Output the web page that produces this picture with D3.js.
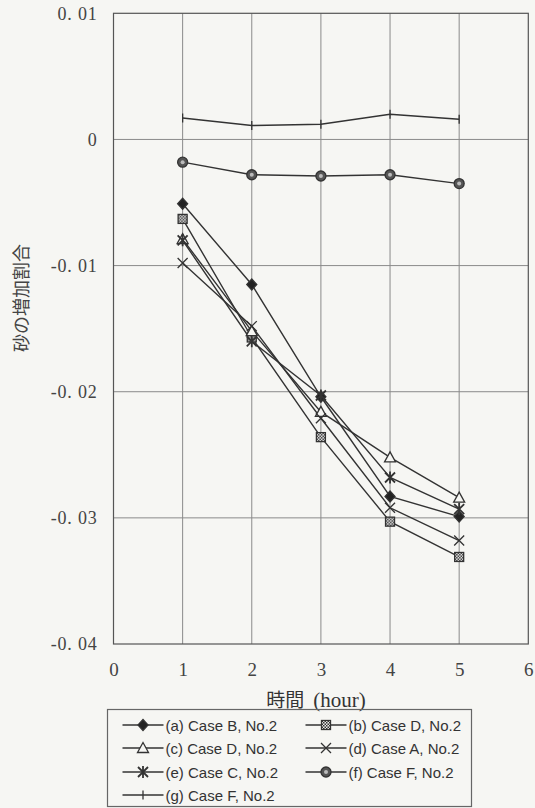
<!DOCTYPE html>
<html><head><meta charset="utf-8">
<script src="https://cdn.jsdelivr.net/npm/d3@7"></script>
<style>
html,body{margin:0;padding:0;background:#f6f6f3;}
svg{display:block;}
</style></head>
<body>
<svg id="chart" width="535" height="808"></svg>
<script>
// ---- data ----
const hours = [1, 2, 3, 4, 5];
const seriesA = [-0.0051, -0.0115, -0.0204, -0.0283, -0.0299]; // (a) Case B, No.2
const seriesB = [-0.0063, -0.0157, -0.0236, -0.0303, -0.0331]; // (b) Case D, No.2
const seriesC = [-0.0079, -0.0152, -0.0216, -0.0252, -0.0284]; // (c) Case D, No.2
const seriesD = [-0.0098, -0.0148, -0.0221, -0.0292, -0.0318]; // (d) Case A, No.2
const seriesE = [-0.0080, -0.0160, -0.0203, -0.0268, -0.0293]; // (e) Case C, No.2
const seriesF = [-0.0018, -0.0028, -0.0029, -0.0028, -0.0035]; // (f) Case F, No.2
const seriesG = [0.0017, 0.0011, 0.0012, 0.0020, 0.0016];      // (g) Case F, No.2
const legendLabels = ["(a) Case B, No.2", "(b) Case D, No.2", "(c) Case D, No.2", "(d) Case A, No.2",
                      "(e) Case C, No.2", "(f) Case F, No.2", "(g) Case F, No.2"];
const markerTypes = ["diamond", "checker", "triangle", "x", "asterisk", "dotcircle", "plus"];
const xTicks = [0, 1, 2, 3, 4, 5, 6];
const yTicks = [0.01, 0, -0.01, -0.02, -0.03, -0.04];
const yTickLabels = ["0. 01", "0", "-0. 01", "-0. 02", "-0. 03", "-0. 04"];
const xTitleJa = "時間";
const xTitleEn = "(hour)";
const yTitle = "砂の増加割合";

const allSeries = [seriesA, seriesB, seriesC, seriesD, seriesE, seriesF, seriesG];

const svg = d3.select("#chart");
const INK = "#333";
const GRID = "#8a8a8a";

const x = d3.scaleLinear().domain([0, 6]).range([113.5, 528.3]);
const y = d3.scaleLinear().domain([-0.04, 0.01]).range([644, 13.3]);

// pattern for checker square
const defs = svg.append("defs");
const pat = defs.append("pattern").attr("id", "chk").attr("patternUnits", "userSpaceOnUse")
  .attr("width", 3).attr("height", 3);
pat.append("rect").attr("width", 3).attr("height", 3).attr("fill", "#eee");
pat.append("rect").attr("width", 1.5).attr("height", 1.5).attr("fill", "#333");
pat.append("rect").attr("x", 1.5).attr("y", 1.5).attr("width", 1.5).attr("height", 1.5).attr("fill", "#333");

// grid
const g = svg.append("g");
g.selectAll("line.vg").data(xTicks.slice(1, -1)).join("line")
  .attr("x1", d => x(d)).attr("x2", d => x(d)).attr("y1", y(0.01)).attr("y2", y(-0.04))
  .attr("stroke", GRID).attr("stroke-width", 1);
g.selectAll("line.hg").data(yTicks.slice(1, -1)).join("line")
  .attr("x1", x(0)).attr("x2", x(6)).attr("y1", d => y(d)).attr("y2", d => y(d))
  .attr("stroke", GRID).attr("stroke-width", 1);
g.append("rect").attr("x", x(0)).attr("y", y(0.01)).attr("width", x(6) - x(0)).attr("height", y(-0.04) - y(0.01))
  .attr("fill", "none").attr("stroke", "#555").attr("stroke-width", 1.2);

// y axis labels
const yAxis = d3.axisLeft(y).tickValues(yTicks).tickSize(0).tickPadding(16)
  .tickFormat((d, i) => yTickLabels[i]);
const ya = svg.append("g").attr("transform", `translate(${x(0)},0)`).call(yAxis);
ya.select(".domain").remove();
ya.selectAll("text").attr("font-family", "'Liberation Serif', serif").attr("font-size", 18)
  .attr("letter-spacing", 0.8).attr("fill", "#444");

// x axis labels
const xAxis = d3.axisBottom(x).tickValues(xTicks).tickSize(0).tickPadding(0).tickFormat(d3.format("d"));
const xa = svg.append("g").attr("transform", `translate(0,${y(-0.04) + 18})`).call(xAxis);
xa.select(".domain").remove();
xa.selectAll("text").attr("font-family", "'Liberation Serif', serif").attr("font-size", 19).attr("fill", "#444");

// titles
const xt = svg.append("text").attr("x", 316).attr("y", 707).attr("text-anchor", "middle").attr("fill", "#333");
xt.append("tspan").attr("font-family", "'Noto Sans CJK JP'").attr("font-size", 19).text(xTitleJa);
xt.append("tspan").attr("dx", 9).attr("font-family", "'Liberation Serif', serif").attr("font-size", 21).text(xTitleEn);
svg.append("text").attr("transform", "translate(28,298) rotate(-90)").attr("text-anchor", "middle")
  .attr("font-family", "'Noto Sans CJK JP'").attr("font-size", 18).attr("fill", "#444").text(yTitle);

// marker drawer
function drawMarker(sel, type, cx, cy) {
  const m = sel.append("g").attr("transform", `translate(${cx},${cy})`);
  const st = {stroke: INK, "stroke-width": 1.3};
  const ap = (el, o) => { Object.entries(o).forEach(([k, v]) => el.attr(k, v)); return el; };
  if (type === "diamond") {
    ap(m.append("path").attr("d", "M0,-5.5L5,0L0,5.5L-5,0Z").attr("fill", "#222"), st);
  } else if (type === "checker") {
    ap(m.append("rect").attr("x", -4.5).attr("y", -4.5).attr("width", 9).attr("height", 9).attr("fill", "url(#chk)"), st);
  } else if (type === "triangle") {
    ap(m.append("path").attr("d", "M0,-5.5L5.5,4.5L-5.5,4.5Z").attr("fill", "#f6f6f3"), st);
  } else if (type === "x") {
    ap(m.append("path").attr("d", "M-5,-5L5,5M-5,5L5,-5").attr("fill", "none"), st);
  } else if (type === "asterisk") {
    ap(m.append("path").attr("d", "M-5,-5L5,5M-5,5L5,-5M0,-6L0,6").attr("fill", "none"), {stroke: INK, "stroke-width": 1.8});
  } else if (type === "dotcircle") {
    ap(m.append("circle").attr("r", 5).attr("fill", "#555"), st);
    m.append("circle").attr("r", 2).attr("fill", "#bbb");
  } else if (type === "plus") {
    ap(m.append("path").attr("d", "M0,-4.5L0,4.5").attr("fill", "none"), st);
  }
}

// lines & markers
const line = d3.line().x((d, i) => x(hours[i])).y(d => y(d));
const plot = svg.append("g");
allSeries.forEach((s, k) => {
  plot.append("path").datum(s).attr("d", line).attr("fill", "none").attr("stroke", INK).attr("stroke-width", 1.4);
});
allSeries.forEach((s, k) => {
  s.forEach((v, i) => drawMarker(plot, markerTypes[k], x(hours[i]), y(v)));
});

// legend
const lg = svg.append("g");
lg.append("rect").attr("x", 107.5).attr("y", 709.5).attr("width", 364).attr("height", 97)
  .attr("fill", "none").attr("stroke", "#666").attr("stroke-width", 1.2);
const rowY = [725, 748, 772, 795];
const colX = [122.5, 305.5];
legendLabels.forEach((lab, k) => {
  const col = k % 2, row = Math.floor(k / 2);
  const lx = colX[col], ly = rowY[row];
  lg.append("line").attr("x1", lx).attr("x2", lx + 41).attr("y1", ly).attr("y2", ly)
    .attr("stroke", INK).attr("stroke-width", 1.4);
  drawMarker(lg, markerTypes[k], lx + 20.5, ly);
  lg.append("text").attr("x", lx + 43).attr("y", ly + 5.5)
    .attr("font-family", "'Liberation Sans', Arial, sans-serif").attr("font-size", 15).attr("fill", "#333")
    .text(lab);
});
</script>
</body></html>
